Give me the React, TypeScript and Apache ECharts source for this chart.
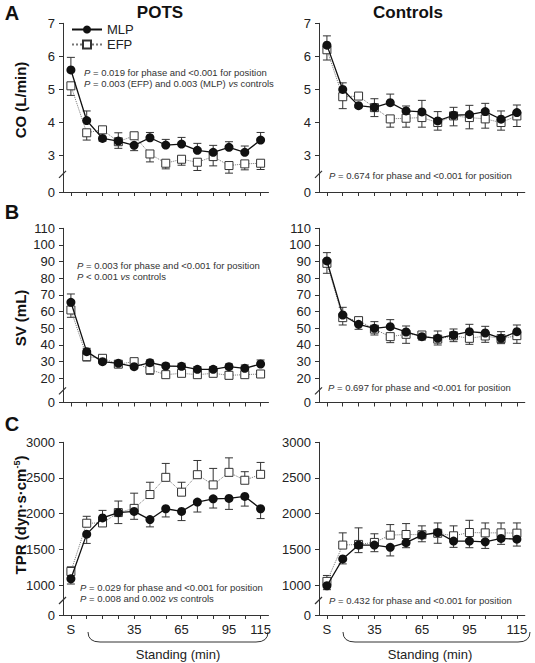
import React, { useEffect, useRef } from 'react';
import * as echarts from 'echarts';

const FONT = '"Liberation Sans", Arial, Helvetica, sans-serif';

// ---------- data ----------
const categories = ['S', '5', '15', '25', '35', '45', '55', '65', '75', '85', '95', '105', '115'];
const xTickLabels = ['S', '35', '65', '95', '115'];
const potsLabelIndex = [0, 4, 7, 10, 12];
const ctrlLabelIndex = [0, 3, 6, 9, 12];

const coTicks = [3, 4, 5, 6, 7];
const svTicks = [20, 30, 40, 50, 60, 70, 80, 90, 100, 110];
const tprTicks = [1000, 1500, 2000, 2500, 3000];

// CO (L/min)
const coPotsMLP = [5.59, 4.06, 3.52, 3.44, 3.31, 3.54, 3.32, 3.35, 3.16, 3.10, 3.25, 3.10, 3.47];
const coPotsMLPErr = [0.38, 0.29, 0.08, 0.25, 0.16, 0.16, 0.17, 0.20, 0.21, 0.21, 0.17, 0.19, 0.23];
const coPotsEFP = [5.11, 3.69, 3.78, 3.42, 3.60, 3.05, 2.77, 2.89, 2.80, 2.97, 2.70, 2.75, 2.77];
const coPotsEFPErr = [0.29, 0.22, 0.08, 0.20, 0.06, 0.24, 0.17, 0.18, 0.25, 0.28, 0.23, 0.18, 0.19];
const coCtrlMLP = [6.34, 5.00, 4.51, 4.46, 4.60, 4.35, 4.32, 4.05, 4.22, 4.24, 4.33, 4.10, 4.30];
const coCtrlMLPErr = [0.28, 0.20, 0.06, 0.26, 0.26, 0.15, 0.35, 0.28, 0.24, 0.28, 0.25, 0.25, 0.23];
const coCtrlEFP = [6.20, 4.78, 4.80, 4.45, 4.11, 4.13, 4.15, 4.00, 4.20, 4.15, 4.11, 4.00, 4.20];
const coCtrlEFPErr = [0.31, 0.36, 0.06, 0.27, 0.25, 0.27, 0.29, 0.23, 0.30, 0.34, 0.28, 0.23, 0.32];

// SV (mL)
const svPotsMLP = [65.6, 36, 30, 29, 27, 29.4, 27.4, 27.2, 25.4, 25.4, 27, 26, 28.6];
const svPotsMLPErr = [5, 2, 1, 1.5, 1, 1.6, 1.6, 1.8, 1.6, 1.6, 1.6, 2, 2.4];
const svPotsEFP = [61, 33, 32, 28.5, 30, 25.2, 22.2, 23, 22.2, 23, 21.8, 22.2, 22.6];
const svPotsEFPErr = [4.4, 2.6, 1, 1.2, 1, 2.8, 1, 1.4, 1, 1.4, 2.2, 1, 1];
const svCtrlMLP = [90.4, 58, 52.4, 50, 51, 47.8, 45, 44, 46, 48, 47.2, 44, 48];
const svCtrlMLPErr = [5, 4.6, 3, 4, 4.2, 3.6, 2, 4.4, 3.6, 4.4, 4, 4, 4];
const svCtrlEFP = [89, 56.4, 54.6, 49.5, 45, 46.4, 46, 43.5, 45.5, 44, 45.4, 43.8, 45.6];
const svCtrlEFPErr = [6, 4.4, 2, 3.5, 3.6, 5.4, 1.5, 3.5, 3.5, 3.6, 3.8, 3, 4.6];

// TPR (dyn·s·cm-5)
const tprPotsMLP = [1088, 1713, 1940, 2014, 2032, 1917, 2069, 2032, 2162, 2208, 2213, 2241, 2069];
const tprPotsMLPErr = [74, 130, 106, 153, 111, 102, 115, 129, 139, 129, 153, 135, 138];
const tprPotsEFP = [1190, 1866, 1870, 2015, 2074, 2268, 2509, 2301, 2546, 2403, 2579, 2468, 2551];
const tprPotsEFPErr = [65, 97, 30, 162, 213, 172, 195, 139, 199, 231, 203, 120, 167];
const tprCtrlMLP = [990, 1366, 1560, 1560, 1528, 1593, 1699, 1736, 1616, 1616, 1606, 1653, 1643];
const tprCtrlMLPErr = [55, 70, 106, 93, 120, 70, 93, 134, 88, 93, 93, 83, 97];
const tprCtrlEFP = [1051, 1560, 1569, 1597, 1699, 1708, 1705, 1725, 1690, 1736, 1731, 1731, 1727];
const tprCtrlEFPErr = [83, 171, 232, 121, 148, 153, 124, 140, 139, 171, 139, 139, 143];

// ---------- layout ----------
const rows = [
  { top: 23.3, height: 168.7, min: 1.9, max: 7, ticks: coTicks, name: 'CO (L/min)', nameY: 100, letter: 'A', letterY: 13 },
  { top: 228.3, height: 174.2, min: 5.5, max: 110, ticks: svTicks, name: 'SV (mL)', nameY: 318, letter: 'B', letterY: 212 },
  { top: 442.3, height: 172.7, min: 580, max: 3000, ticks: tprTicks, name: 'TPR (dyn·s·cm{sup|-5})', nameY: 515, letter: 'C', letterY: 424 },
];
const cols = [
  { left: 63, width: 205.5, labelIndex: potsLabelIndex },
  { left: 319, width: 205.8, labelIndex: ctrlLabelIndex },
];

const panelData = [
  [coPotsMLP, coPotsMLPErr, coPotsEFP, coPotsEFPErr],
  [coCtrlMLP, coCtrlMLPErr, coCtrlEFP, coCtrlEFPErr],
  [svPotsMLP, svPotsMLPErr, svPotsEFP, svPotsEFPErr],
  [svCtrlMLP, svCtrlMLPErr, svCtrlEFP, svCtrlEFPErr],
  [tprPotsMLP, tprPotsMLPErr, tprPotsEFP, tprPotsEFPErr],
  [tprCtrlMLP, tprCtrlMLPErr, tprCtrlEFP, tprCtrlEFPErr],
];

const annotations = [
  { x: 84, y: 72.5, text: '{i|P} = 0.019 for phase and <0.001 for position' },
  { x: 84, y: 83.5, text: '{i|P} = 0.003 (EFP) and 0.003 (MLP) {i|vs} controls' },
  { x: 329, y: 175.7, text: '{i|P} = 0.674 for phase and <0.001 for position' },
  { x: 77, y: 265.7, text: '{i|P} = 0.003 for phase and <0.001 for position' },
  { x: 77, y: 276.7, text: '{i|P} < 0.001 {i|vs} controls' },
  { x: 328, y: 387.3, text: '{i|P} = 0.697 for phase and <0.001 for position' },
  { x: 80, y: 587, text: '{i|P} = 0.029 for phase and <0.001 for position' },
  { x: 80, y: 598, text: '{i|P} = 0.008 and 0.002 {i|vs} controls' },
  { x: 329, y: 600, text: '{i|P} = 0.432 for phase and <0.001 for position' },
];

const errRender = (params: any, api: any) => {
  const xi = api.value(0);
  const p1 = api.coord([xi, api.value(1)]);
  const p2 = api.coord([xi, api.value(2)]);
  const cap = 4;
  return {
    type: 'group',
    children: [
      { type: 'line', shape: { x1: p1[0], y1: p1[1], x2: p2[0], y2: p2[1] }, style: { stroke: '#333', lineWidth: 1 } },
      { type: 'line', shape: { x1: p2[0] - cap, y1: p2[1], x2: p2[0] + cap, y2: p2[1] }, style: { stroke: '#333', lineWidth: 1 } },
    ],
  };
};

function buildOption() {
  const grid: any[] = [];
  const xAxis: any[] = [];
  const yAxis: any[] = [];
  const series: any[] = [];
  rows.forEach((r, ri) => {
    cols.forEach((c, ci) => {
      const k = ri * 2 + ci;
      grid.push({ left: c.left, top: r.top, width: c.width, height: r.height });
      xAxis.push({
        gridIndex: k,
        type: 'category',
        data: categories,
        boundaryGap: true,
        axisLine: { lineStyle: { color: '#333', width: 1 } },
        axisTick: { show: true, alignWithLabel: true, interval: 0, length: 4, lineStyle: { color: '#333' } },
        axisLabel: {
          show: ri === 2,
          interval: 0,
          margin: 8,
          color: '#222',
          fontSize: 13,
          fontFamily: FONT,
          formatter: (_v: string, idx: number) => {
            const j = c.labelIndex.indexOf(idx);
            return j >= 0 ? xTickLabels[j] : '';
          },
        },
        splitLine: { show: false },
      });
      const custom = [r.min, ...r.ticks];
      yAxis.push({
        gridIndex: k,
        type: 'value',
        min: r.min,
        max: r.max,
        axisLine: { show: true, lineStyle: { color: '#333', width: 1 } },
        axisTick: { show: true, length: 4, customValues: custom, lineStyle: { color: '#333' } },
        axisLabel: {
          customValues: custom,
          margin: 8,
          color: '#222',
          fontSize: 13,
          fontFamily: FONT,
          formatter: (v: number) => (Math.abs(v - r.min) < 1e-9 ? '0' : String(v)),
        },
        splitLine: { show: false },
      });
      const [mlp, mlpErr, efp, efpErr] = panelData[k];
      const mlpEnds = mlp.map((v, i) => [i, v, v >= efp[i] ? v + mlpErr[i] : v - mlpErr[i]]);
      const efpEnds = efp.map((v, i) => [i, v, v > mlp[i] ? v + efpErr[i] : v - efpErr[i]]);
      series.push({
        type: 'custom', name: 'EFP error', xAxisIndex: k, yAxisIndex: k, z: 1,
        renderItem: errRender, data: efpEnds, encode: { x: 0, y: [1, 2] }, clip: false, silent: true,
      });
      series.push({
        type: 'custom', name: 'MLP error', xAxisIndex: k, yAxisIndex: k, z: 1,
        renderItem: errRender, data: mlpEnds, encode: { x: 0, y: [1, 2] }, clip: false, silent: true,
      });
      series.push({
        type: 'line', name: 'EFP', xAxisIndex: k, yAxisIndex: k, z: 2,
        data: efp, symbol: 'rect', symbolSize: 8, showAllSymbol: true,
        itemStyle: { color: '#fff', borderColor: '#333', borderWidth: 1 },
        lineStyle: { color: '#777', width: 1, type: 'dotted' },
      });
      series.push({
        type: 'line', name: 'MLP', xAxisIndex: k, yAxisIndex: k, z: 3,
        data: mlp, symbol: 'circle', symbolSize: 9, showAllSymbol: true,
        itemStyle: { color: '#111', borderColor: '#111', borderWidth: 0 },
        lineStyle: { color: '#111', width: 1.3 },
      });
    });
  });

  return {
    animation: false,
    backgroundColor: '#fff',
    textStyle: { fontFamily: FONT },
    legend: {
      data: ['MLP', 'EFP'],
      orient: 'vertical',
      left: 66,
      top: 18,
      itemWidth: 30,
      itemHeight: 10,
      itemGap: 2,
      textStyle: { fontSize: 13, color: '#222', fontFamily: FONT },
    },
    grid,
    xAxis,
    yAxis,
    series,
  };
}

function staticGraphics(): any[] {
  const g: any[] = [];
  g.push({ type: 'text', x: 160, y: 12, style: { text: 'POTS', font: `bold 17px ${FONT}`, fill: '#111', textAlign: 'center', textVerticalAlign: 'middle' } });
  g.push({ type: 'text', x: 408, y: 12, style: { text: 'Controls', font: `bold 17px ${FONT}`, fill: '#111', textAlign: 'center', textVerticalAlign: 'middle' } });
  rows.forEach((r) => {
    g.push({ type: 'text', x: 12, y: r.letterY, style: { text: r.letter, font: `bold 20px ${FONT}`, fill: '#111', textAlign: 'center', textVerticalAlign: 'middle' } });
    g.push({
      type: 'text', x: 20, y: r.nameY, rotation: Math.PI / 2,
      style: {
        text: r.name, fontSize: 15, fontWeight: 'bold', fontFamily: FONT, fill: '#111',
        textAlign: 'center', textVerticalAlign: 'middle',
        rich: { sup: { fontSize: 9, fontWeight: 'bold', fontFamily: FONT, fill: '#111', verticalAlign: 'top', padding: [0, 0, 7, 0] } },
      },
    });
  });
  annotations.forEach((a) => {
    g.push({
      type: 'text', x: a.x, y: a.y,
      style: {
        text: a.text, fontSize: 9.5, fontFamily: FONT, fill: '#333',
        textAlign: 'left', textVerticalAlign: 'middle',
        rich: { i: { fontSize: 9.5, fontFamily: FONT, fontStyle: 'italic', fill: '#333' } },
      },
    });
  });
  // braces and "Standing (min)"
  const braces = [
    { x1: 88, x2: 268, cx: 178 },
    { x1: 343, x2: 530, cx: 430 },
  ];
  braces.forEach((b) => {
    const yt = 632, yb = 642, r = 12;
    g.push({ type: 'bezierCurve', shape: { x1: b.x1, y1: yt, cpx1: b.x1, cpy1: yb, x2: b.x1 + r, y2: yb }, style: { stroke: '#333', lineWidth: 1, fill: 'none' } });
    g.push({ type: 'line', shape: { x1: b.x1 + r, y1: yb, x2: b.x2 - r, y2: yb }, style: { stroke: '#333', lineWidth: 1 } });
    g.push({ type: 'bezierCurve', shape: { x1: b.x2 - r, y1: yb, cpx1: b.x2, cpy1: yb, x2: b.x2, y2: yt }, style: { stroke: '#333', lineWidth: 1, fill: 'none' } });
    g.push({ type: 'text', x: b.cx, y: 654, style: { text: 'Standing (min)', fontSize: 13, fontFamily: FONT, fill: '#222', textAlign: 'center', textVerticalAlign: 'middle' } });
  });
  return g;
}

export default function App() {
  const ref = useRef<HTMLDivElement>(null);
  useEffect(() => {
    document.body.style.margin = '0';
    if (!ref.current) return;
    const chart = echarts.init(ref.current, undefined, { renderer: 'svg' });
    chart.setOption(buildOption() as any);
    const breaks: any[] = [];
    rows.forEach((r, ri) => {
      cols.forEach((c, ci) => {
        const k = ri * 2 + ci;
        const bv = r.min + (r.ticks[0] - r.min) * 0.5;
        const y = chart.convertToPixel({ yAxisIndex: k } as any, bv) as unknown as number;
        const x = c.left;
        breaks.push({ type: 'line', z: 100, shape: { x1: x - 4, y1: y + 4, x2: x + 3, y2: y - 3 }, style: { stroke: '#333', lineWidth: 1.2 } });
      });
    });
    chart.setOption({ graphic: [...staticGraphics(), ...breaks] } as any);
    return () => chart.dispose();
  }, []);
  return <div ref={ref} style={{ position: 'fixed', left: 0, top: 0, width: 535, height: 663 }} />;
}
